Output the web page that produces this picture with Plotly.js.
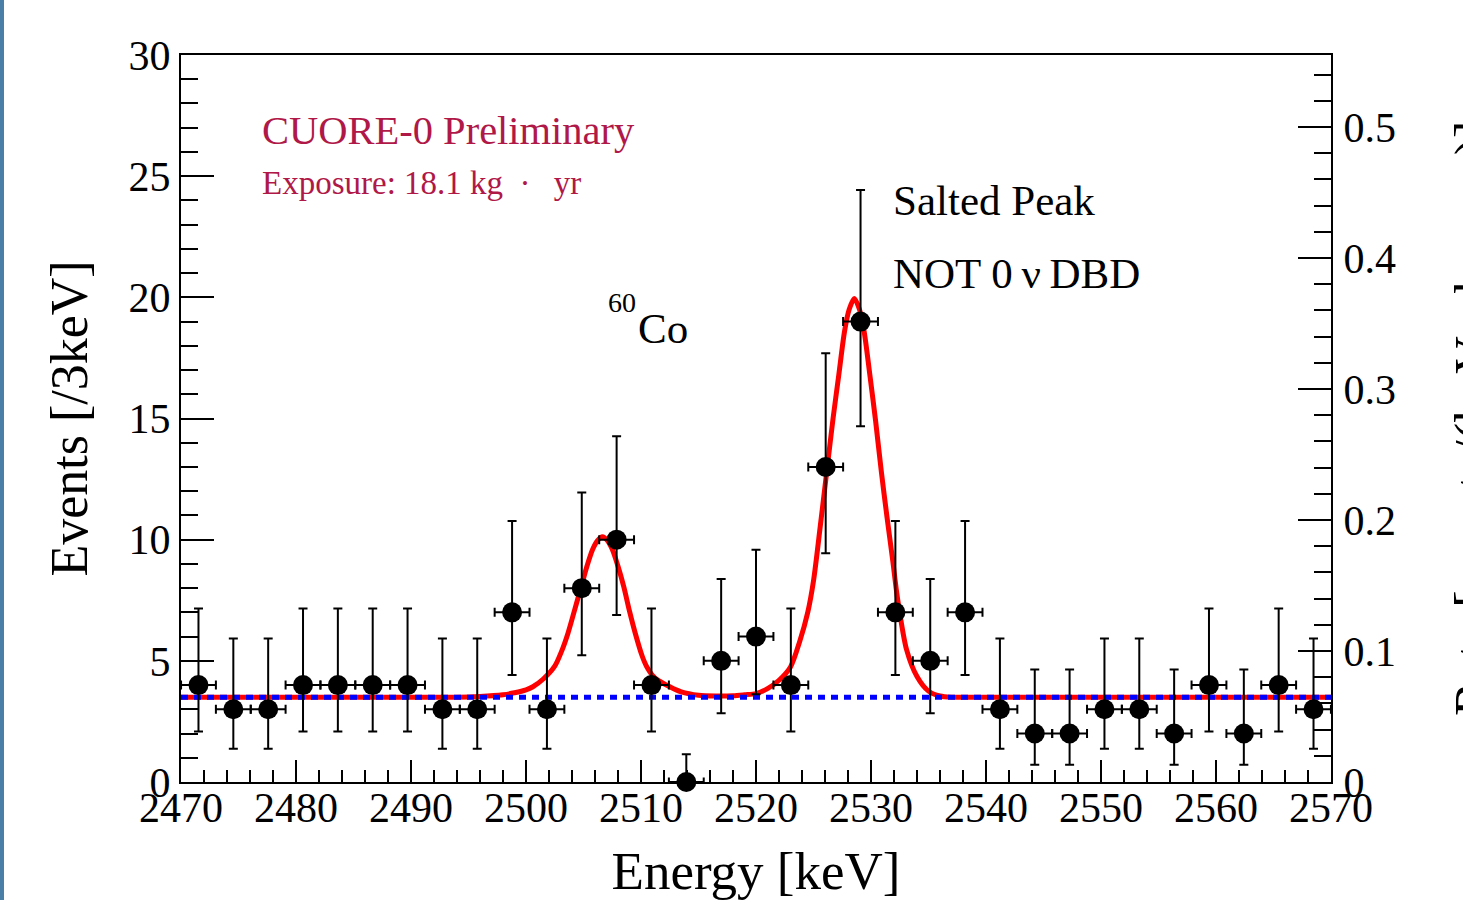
<!DOCTYPE html>
<html>
<head>
<meta charset="utf-8">
<script src="https://cdn.plot.ly/plotly-3.0.1.min.js"></script>
<style>
  html, body { margin: 0; padding: 0; background: #ffffff; overflow: hidden; }
  #wrap { position: relative; width: 1463px; height: 900px; }
  #chart { position: absolute; left: 0; top: 0; width: 1463px; height: 900px; }
  #edge { position: absolute; left: 0; top: 0; width: 4px; height: 900px; background: #4a80a8; z-index: 5; }
</style>
</head>
<body>
<div id="wrap">
  <div id="chart"></div>
  <div id="edge"></div>
</div>
<script>
// Bin centres (keV), 33 bins between 2470 and 2570 keV
const binCenters = [2471.52, 2474.55, 2477.58, 2480.61, 2483.64, 2486.67, 2489.70, 2492.73, 2495.76, 2498.79,
  2501.82, 2504.85, 2507.88, 2510.91, 2513.94, 2516.97, 2520.00, 2523.03, 2526.06, 2529.09,
  2532.12, 2535.15, 2538.18, 2541.21, 2544.24, 2547.27, 2550.30, 2553.33, 2556.36, 2559.39,
  2562.42, 2565.45, 2568.48];
// Events per bin
const counts = [4, 3, 3, 4, 4, 4, 4, 3, 3, 7,
  3, 8, 10, 4, 0, 5, 6, 4, 13, 19,
  7, 5, 7, 3, 2, 2, 3, 3, 2, 4,
  2, 4, 3];
// Asymmetric Poisson errors
const errUp = [3.163, 2.918, 2.918, 3.163, 3.163, 3.163, 3.163, 2.918, 2.918, 3.770,
  2.918, 3.950, 4.270, 3.163, 1.148, 3.382, 3.584, 3.163, 4.690, 5.430,
  3.770, 3.382, 3.770, 2.918, 2.638, 2.638, 2.918, 2.918, 2.638, 3.163,
  2.638, 3.163, 2.918];
const errDown = [1.914, 1.633, 1.633, 1.914, 1.914, 1.914, 1.914, 1.633, 1.633, 2.581,
  1.633, 2.768, 3.109, 1.914, 0, 2.160, 2.380, 1.914, 3.560, 4.320,
  2.581, 2.160, 2.581, 1.633, 1.292, 1.292, 1.633, 1.633, 1.292, 1.914,
  1.292, 1.914, 1.633];
const halfBin = 1.515;

// Fit curve
const fitX = [2470, 2480, 2490, 2494, 2496, 2498, 2499, 2500, 2500.6, 2501.5,
  2502.5, 2503.1, 2503.65, 2504.2, 2504.8, 2505.3, 2505.8, 2506.2, 2506.65, 2507.1,
  2507.5, 2508.0, 2508.5, 2509.0, 2509.5, 2510.1, 2510.5, 2511.2, 2512.5, 2513.5,
  2515, 2516.5, 2518, 2519, 2520, 2521, 2522, 2523, 2523.8, 2524.5,
  2525, 2525.6, 2526.2, 2526.7, 2527.2, 2527.7, 2528.1, 2528.55, 2529.0, 2529.4,
  2529.9, 2530.4, 2530.9, 2531.4, 2531.9, 2532.3, 2533.1, 2534, 2535, 2536,
  2537, 2538, 2545, 2555, 2570];
const fitY = [3.5, 3.5, 3.5, 3.5, 3.53, 3.6, 3.68, 3.8, 3.93, 4.25,
  4.78, 5.4, 6.14, 7.05, 8.06, 8.9, 9.6, 9.95, 10.12, 9.95,
  9.6, 8.9, 8.06, 7.05, 6.14, 5.2, 4.76, 4.3, 3.93, 3.72,
  3.58, 3.55, 3.56, 3.6, 3.65, 3.85, 4.2, 4.75, 5.8, 7.0,
  8.3, 10.6, 13.0, 15.0, 16.8, 18.6, 19.5, 19.95, 19.5, 18.6,
  16.8, 14.9, 12.8, 10.9, 9.1, 7.6, 5.45, 4.35, 3.75, 3.55,
  3.5, 3.5, 3.5, 3.5, 3.5];

// Flat background
const bkgX = [2470, 2570];
const bkgY = [3.5, 3.5];

// Right-axis range (rate units matching 0-30 events)
const rateRange = [0, 0.555];

const serif = 'Liberation Serif, Times New Roman, serif';

const traces = [
  {
    type: 'scatter', mode: 'lines', x: fitX, y: fitY,
    line: { color: '#ff0000', width: 5, shape: 'spline', smoothing: 0.8 },
    hoverinfo: 'skip', showlegend: false
  },
  {
    type: 'scatter', mode: 'lines', x: bkgX, y: bkgY,
    line: { color: '#0000ff', width: 5, dash: '7px,6px' },
    hoverinfo: 'skip', showlegend: false
  },
  {
    type: 'scatter', mode: 'markers', x: binCenters, y: counts,
    marker: { color: '#000000', size: 20 },
    error_y: { type: 'data', symmetric: false, array: errUp, arrayminus: errDown, color: '#000000', thickness: 2, width: 4.5 },
    error_x: { type: 'constant', value: halfBin, color: '#000000', thickness: 2, width: 4.5 },
    cliponaxis: false, showlegend: false
  },
  {
    // carries the right-hand axis (no marks)
    type: 'scatter', mode: 'lines', x: [], y: [], yaxis: 'y2',
    hoverinfo: 'skip', showlegend: false
  }
];

const layout = {
  width: 1463, height: 900,
  margin: { l: 181, r: 132, t: 55, b: 118, autoexpand: false },
  paper_bgcolor: '#ffffff', plot_bgcolor: '#ffffff',
  font: { family: serif, color: '#000000' },
  showlegend: false,
  xaxis: {
    range: [2470, 2570], tick0: 2470, dtick: 10,
    ticks: 'inside', ticklen: 22, tickwidth: 2, tickcolor: '#000000',
    minor: { dtick: 2, ticks: 'inside', ticklen: 12, tickwidth: 2, tickcolor: '#000000' },
    showline: true, linewidth: 2, linecolor: '#000000', mirror: true,
    showgrid: false, zeroline: false, automargin: false,
    ticklabelstandoff: -12,
    tickfont: { family: serif, size: 42, color: '#000000' },
    title: { text: 'Energy [keV]', font: { family: serif, size: 53, color: '#000000' }, standoff: 23 }
  },
  yaxis: {
    range: [0, 30], tick0: 0, dtick: 5,
    ticks: 'inside', ticklen: 33, tickwidth: 2, tickcolor: '#000000',
    minor: { dtick: 1, ticks: 'inside', ticklen: 17, tickwidth: 2, tickcolor: '#000000' },
    showline: true, linewidth: 2, linecolor: '#000000', mirror: true,
    showgrid: false, zeroline: false, automargin: false,
    tickfont: { family: serif, size: 42, color: '#000000' },
    title: { text: 'Events [/3keV]', font: { family: serif, size: 52, color: '#000000' }, standoff: 24 }
  },
  yaxis2: {
    overlaying: 'y', side: 'right', anchor: 'x',
    range: rateRange, tick0: 0, dtick: 0.1,
    ticks: 'inside', ticklen: 33, tickwidth: 2, tickcolor: '#000000',
    minor: { dtick: 0.02, ticks: 'inside', ticklen: 17, tickwidth: 2, tickcolor: '#000000' },
    showline: true, linewidth: 2, linecolor: '#000000',
    showgrid: false, zeroline: false, automargin: false,
    ticklabelstandoff: 2,
    tickfont: { family: serif, size: 42, color: '#000000' }
  },
  annotations: [
    { xref: 'x', yref: 'y', x: 2476.9, y: 26.89, xanchor: 'left', yanchor: 'middle', showarrow: false,
      text: 'CUORE-0 Preliminary', font: { family: serif, size: 40.5, color: '#b01848' } },
    { xref: 'x', yref: 'y', x: 2476.9, y: 24.72, xanchor: 'left', yanchor: 'middle', showarrow: false,
      text: 'Exposure: 18.1 kg \u00a0\u00b7\u00a0 \u2009yr', font: { family: serif, size: 33, color: '#b01848' } },
    { xref: 'x', yref: 'y', x: 2531.75, y: 23.98, xanchor: 'left', yanchor: 'middle', showarrow: false,
      text: 'Salted Peak', font: { family: serif, size: 43, color: '#000000' } },
    { xref: 'x', yref: 'y', x: 2531.75, y: 20.97, xanchor: 'left', yanchor: 'middle', showarrow: false,
      text: 'NOT 0\u2009\u03bd\u2009DBD', font: { family: serif, size: 43, color: '#000000' } },
    { xref: 'x', yref: 'y', x: 2506.93, y: 19.8, xanchor: 'left', yanchor: 'middle', showarrow: false,
      text: '60', font: { family: serif, size: 28, color: '#000000' } },
    { xref: 'x', yref: 'y', x: 2509.55, y: 18.7, xanchor: 'left', yanchor: 'middle', showarrow: false,
      text: 'Co', font: { family: serif, size: 43, color: '#000000' } },
    { xref: 'paper', yref: 'paper', x: 1.097, y: 0.5, xanchor: 'left', yanchor: 'middle', showarrow: false,
      textangle: -90, text: 'Rate [counts/(keV \u00b7 kg \u00b7 yr)]', font: { family: serif, size: 52, color: '#000000' } }
  ]
};

Plotly.newPlot('chart', traces, layout, { displayModeBar: false, staticPlot: true });
</script>
</body>
</html>
